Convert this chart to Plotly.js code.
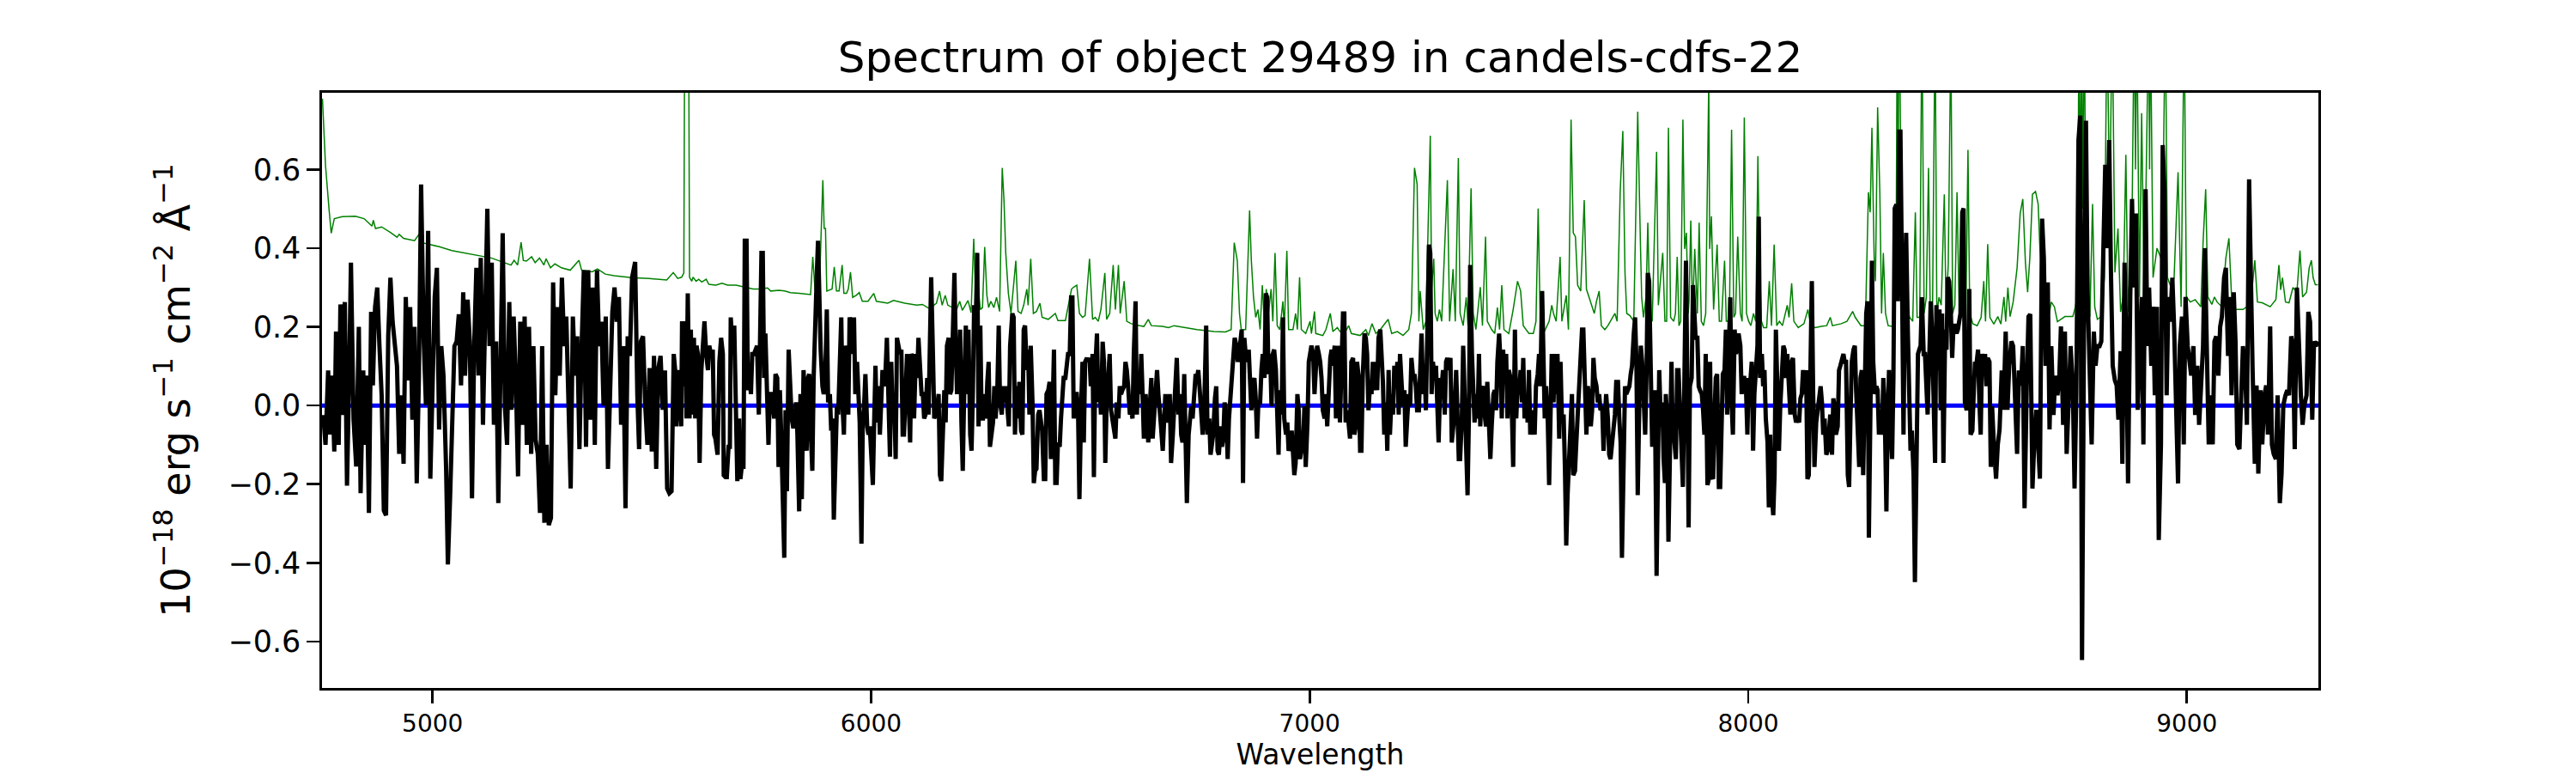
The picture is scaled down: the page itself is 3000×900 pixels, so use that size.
<!DOCTYPE html>
<html>
<head>
<meta charset="utf-8">
<script src="https://cdn.plot.ly/plotly-3.0.1.min.js"></script>
<style>
  html, body { margin: 0; padding: 0; background: #fff; }
  #chart { width: 3000px; height: 900px; }
</style>
</head>
<body>
<div id="chart"></div>
<script>
// Values read off the reference plot: observed flux (black), its error /
// sky spectrum (green) and the zero model (blue). Units: 1e-18 erg/s/cm2/A.

const fluxWave = [
  4751,4756,4762,4766,4771,4776,4780,4786,4790,4795,
  4800,4805,4810,4814,4820,4826,4832,4836,4842,4847,
  4850,4855,4860,4864,4869,4874,4879,4884,4889,4894,
  4899,4904,4909,4914,4919,4924,4929,4934,4939,4944,
  4949,4954,4959,4964,4969,4974,4980,4985,4990,4995,
  5000,5005,5010,5015,5020,5025,5031,5035,5040,5045,
  5050,5055,5060,5065,5070,5074,5080,5085,5090,5095,
  5100,5105,5110,5115,5120,5125,5130,5135,5140,5145,
  5150,5155,5160,5165,5170,5175,5180,5185,5190,5195,
  5200,5205,5210,5215,5220,5225,5230,5235,5240,5245,
  5250,5255,5260,5265,5270,5275,5280,5285,5290,5295,
  5300,5305,5310,5315,5320,5325,5330,5335,5340,5345,
  5350,5355,5360,5365,5370,5375,5380,5385,5390,5395,
  5400,5405,5410,5415,5420,5425,5430,5435,5440,5445,
  5450,5455,5462,5467,5471,5475,5480,5485,5490,5495,
  5500,5505,5510,5515,5520,5525,5530,5535,5540,
  5545,5550,5554,5556,5560,5563,5567,5569,5573,5576,
  5579,5582,5586,5589,5592,5596,5599,5602,5605,5609,
  5613,5616,5620,5624,5628,5631,5635,5639,5642,5645,
  5648,5650,5654,5658,5662,5664,5668,5671,5675,5678,
  5680,5684,5688,5692,5695,5699,5702,5705,5709,5712,
  5716,5719,5722,5726,5729,5733,5737,5740,5744,5747,
  5750,5753,5756,5759,5763,5766,5769,5773,5776,5779,
  5782,5786,5789,5792,5795,5799,5802,5805,5808,5812,
  5815,5819,5822,5825,5829,5832,5836,5839,5842,5846,
  5849,5853,5856,5859,5862,5866,5869,5872,5876,5879,
  5882,5885,5889,5892,5895,5899,5902,5906,5909,5912,
  5915,5919,5922,5925,5929,5932,5935,5938,5942,5945,
  5948,5951,5955,5958,5961,5964,5968,5971,5974,5978,
  5981,5984,5987,5991,5994,5997,6000,6004,6007,6010,
  6013,6017,6020,6023,6026,6030,6033,6036,6040,6043,
  6046,6049,6053,6056,6059,6062,6066,6069,6072,6075,
  6079,6082,6085,6089,6092,6095,6098,6102,6105,6108,
  6111,6115,6118,6121,6124,6128,6131,6134,6137,6141,
  6144,6147,6151,6154,6157,6160,6164,6167,6170,6173,
  6177,6180,6183,6186,6190,6193,6196,6200,6203,6206,
  6209,6213,6216,6219,6222,6226,6229,6232,6235,6239,
  6242,6245,6249,6252,6255,6258,6262,6265,6268,6271,
  6275,6278,6281,6284,6288,6291,6294,6298,6301,6304,
  6307,6311,6314,6317,6320,
  6322,6325,6328,6332,6335,6338,6342,6345,6348,6351,
  6355,6358,6361,6364,6368,6371,6374,6377,6381,6384,
  6387,6390,6394,6397,6400,6404,6407,6410,6413,6417,
  6420,6423,6426,6430,6433,6436,6439,6443,6446,6449,
  6453,6456,6459,6462,6466,6469,6472,6475,6479,6482,
  6485,6488,6492,6495,6498,6501,6505,6508,6511,6515,
  6518,6521,6524,6528,6531,6534,6537,6541,6544,6547,
  6550,6554,6557,6560,6564,6567,6570,6573,6577,6580,
  6583,6586,6590,6593,6596,6599,6603,6606,6609,6613,
  6616,6619,6622,6626,6629,6632,6635,6639,6642,6645,
  6648,6652,6655,6658,6661,6665,6668,6671,6675,6678,
  6681,6684,6688,6691,6694,6697,6701,6704,6707,6710,
  6714,6717,6720,6724,6727,6730,6733,6737,6740,6743,
  6746,6750,6753,6756,6759,6764,6767,6771,6774,6777,
  6780,6784,6787,6790,6793,6797,6800,6803,6806,6810,
  6813,6816,6820,6823,6826,6829,6833,6836,6839,6842,
  6845,6848,6851,6854,6857,6861,6864,6867,6870,6874,
  6877,6880,6883,6887,6890,6893,6897,6900,6903,6906,
  6910,6913,6916,6919,6923,6926,6929,6932,6936,6939,
  6942,6946,6949,6952,6955,6959,6962,6965,6968,6972,
  6975,6978,6981,6985,6988,6991,6995,6998,7001,7004,
  7008,7011,7014,7017,7021,7024,7027,7030,7034,7037,
  7040,7043,7047,7050,7053,7057,7060,7063,
  7066,7069,7072,7076,7079,7082,7086,7089,7092,7095,
  7099,7102,7105,7108,7112,7115,7118,7121,7125,7128,
  7131,7134,7138,7141,7144,7148,7151,7154,7157,7161,
  7164,7167,7170,7174,7177,7180,7183,7187,7190,7193,
  7197,7200,7203,7206,7210,7213,7216,7219,7223,7226,
  7229,7232,7236,7239,7242,7245,7249,7252,7255,7259,
  7262,7265,7268,7272,7275,7278,7281,7285,7288,7291,
  7294,7298,7301,7304,7308,7311,7314,7317,7321,7324,
  7327,7330,7334,7337,7340,7343,7347,7350,7353,7357,
  7360,7363,7366,7370,7373,7376,7379,7383,7386,7389,
  7392,7396,7399,7402,7405,7409,7412,7415,7419,7422,
  7425,7428,7432,7435,7438,7441,7445,7448,7451,7454,
  7458,7461,7464,7468,7471,7474,7477,7481,7484,7487,
  7490,7494,7497,7500,7503,7507,7510,7513,7516,7520,
  7523,7526,7530,7533,7536,7539,7543,7546,7549,7552,
  7556,7559,7562,7565,7569,7572,7575,7579,7582,7585,
  7588,7592,7595,7598,7601,7605,7608,7611,7614,7618,
  7621,7624,7628,7631,7634,7637,7641,7644,7647,7650,
  7654,7657,7660,7663,7667,7670,7673,7676,7680,7683,
  7686,7690,7693,7696,7699,7703,7706,7709,7712,7716,
  7719,7722,7725,7729,7732,7735,7739,7742,7745,7748,
  7752,7755,7758,7761,7765,7768,7771,7774,7778,7781,
  7784,7787,7791,7794,7797,7801,7804,7807,7810,
  7812,7815,7818,7822,7825,7828,7831,7835,7838,7841,
  7845,7848,7851,7854,7858,7861,7864,7867,7871,7874,
  7877,7880,7884,7887,7890,7894,7897,7900,7903,7907,
  7910,7913,7916,7920,7923,7926,7929,7933,7936,7939,
  7942,7946,7949,7952,7956,7959,7962,7965,7969,7972,
  7975,7978,7982,7985,7988,7991,7995,7998,8001,8004,
  8008,8011,8014,8018,8021,8024,8027,8031,8034,8037,
  8040,8044,8047,8050,8053,8057,8060,8063,8067,8070,
  8073,8076,8080,8083,8086,8089,8093,8096,8099,8102,
  8106,8109,8112,8116,8119,8122,8125,8129,8132,8135,
  8138,8142,8145,8148,8151,8155,8158,8161,8165,8168,
  8171,8174,8178,8181,8184,8187,8191,8194,8197,8200,
  8204,8207,8210,8213,8217,8220,8223,8227,8230,8233,
  8236,8240,8243,8246,8249,8253,8256,8259,8262,8266,
  8269,8272,8275,8279,8282,8285,8289,8292,8295,8298,
  8302,8305,8308,8311,8315,8318,8321,8324,8328,8331,
  8334,8338,8341,8344,8347,8351,8354,8357,8360,8364,
  8367,8370,8373,8377,8380,8383,8387,8390,8393,8396,
  8400,8403,8406,8409,8413,8416,8419,8422,8426,8429,
  8432,8436,8439,8442,8445,8449,8452,8455,8458,8462,
  8465,8468,8471,8475,8478,8481,8484,8488,8491,8494,
  8498,8501,8504,8507,8511,8514,8517,8520,8524,8527,
  8530,8533,8537,8540,8543,8546,8550,8553,8556,
  8560,8565,8569,8573,8578,8582,8587,8591,8595,8600,
  8604,8608,8613,8617,8622,8626,8630,8635,8639,8643,
  8648,8652,8657,8661,8665,8670,8674,8678,8683,8687,
  8691,8696,8700,8705,8709,8713,8718,8722,8726,8731,
  8735,8740,8744,8748,8753,8757,8761,8766,8770,8774,
  8779,8783,8788,8792,8796,8801,8805,8809,8814,8818,
  8823,8827,8831,8836,8840,8844,8849,8853,8858,8862,
  8866,8871,8875,8879,8884,8888,8892,8897,8901,8906,
  8910,8914,8919,8923,8927,8932,8936,8941,8945,8949,
  8954,8958,8962,8967,8971,8976,8980,8984,8989,8993,
  8997,9002,9006,9010,9015,9019,9024,9028,9032,9037,
  9041,9045,9050,9054,9059,9063,9067,9072,9076,9080,
  9085,9089,9094,9098,9102,9107,9111,9115,9120,9124,
  9128,9133,9137,9142,9146,9150,9155,9159,9163,9168,
  9172,9177,9181,9185,9190,9194,9198,9203,9207,9212,
  9216,9220,9225,9229,9233,9238,9242,9246,9251,9255,
  9260,9264,9268,9273,9277,9281,9286,9290,9294,9299
];

const fluxValue = [
  -0.024,-0.10,0.089,-0.074,0.076,-0.117,0.188,-0.10,0.257,-0.024,
  0.263,-0.204,0.076,0.363,-0.036,-0.155,0.20,-0.223,0.089,-0.10,
  0.076,-0.273,0.238,0.051,0.25,0.30,0.151,0.026,-0.267,-0.279,
  0.176,0.325,0.213,0.151,0.10,-0.123,0.026,-0.148,0.276,0.064,
  0.25,-0.036,0.20,-0.198,0.076,0.562,0.163,0.001,0.444,-0.186,
  0.076,0.276,0.35,-0.061,0.151,0.076,-0.161,-0.404,-0.236,-0.011,
  0.151,0.163,0.232,0.051,0.288,0.076,0.269,0.163,-0.236,0.151,
  0.35,0.076,0.375,-0.049,0.213,0.50,0.151,0.363,-0.049,0.163,
  -0.248,0.163,0.438,0.0,-0.10,0.263,-0.011,0.226,0.064,-0.18,
  0.213,-0.049,0.226,-0.10,0.20,-0.123,0.151,-0.086,-0.123,-0.273,
  0.151,-0.298,-0.10,-0.304,-0.286,0.313,0.026,0.25,0.076,0.325,
  0.151,0.226,-0.036,-0.211,0.226,0.076,0.176,-0.111,0.151,0.344,
  -0.105,0.344,-0.036,0.30,-0.10,0.344,0.151,0.213,0.0,0.226,
  -0.161,0.076,0.238,0.30,0.213,0.276,-0.049,0.151,-0.261,0.176,
  0.126,0.325,0.365,0.026,-0.111,0.163,0.176,0.0,-0.10,0.095,
  -0.117,0.126,-0.161,0.095,0.126,-0.011,0.089,-0.211,-0.223,
  -0.218,0.131,0.08,-0.053,0.039,0.09,-0.053,0.214,0.049,0.214,
  -0.033,0.285,-0.033,0.193,-0.023,0.172,-0.033,0.152,0.131,-0.146,
  0.09,0.131,0.214,0.131,0.09,0.152,0.131,0.142,-0.074,-0.084,
  -0.125,-0.125,0.111,0.172,0.131,-0.177,-0.182,-0.182,-0.105,-0.105,
  0.224,0.152,0.203,-0.023,-0.192,-0.033,-0.187,-0.156,-0.156,0.419,
  0.419,0.039,0.09,0.029,0.131,0.131,0.142,0.152,-0.023,0.183,
  0.388,0.388,0.07,0.183,0.029,-0.10,0.029,0.029,-0.002,-0.033,
  0.08,0.07,-0.156,0.039,-0.074,-0.279,-0.387,-0.012,-0.218,0.142,
  0.06,-0.033,-0.053,-0.053,0.008,-0.074,-0.269,0.029,-0.238,0.09,
  0.008,-0.115,0.07,0.08,-0.053,-0.166,0.07,0.152,0.326,0.419,
  0.203,0.142,0.049,0.029,0.049,0.244,0.008,0.029,-0.064,-0.033,
  -0.29,-0.074,-0.002,-0.023,0.131,0.224,-0.002,-0.074,0.152,0.131,
  -0.023,0.224,0.203,0.131,0.224,0.029,0.111,0.039,-0.043,-0.351,
  -0.043,-0.002,0.08,-0.053,-0.074,-0.053,-0.125,-0.202,-0.043,0.101,
  -0.043,0.049,-0.074,0.029,0.09,0.049,0.09,0.172,-0.023,-0.13,
  0.111,-0.023,-0.002,-0.136,0.172,0.152,0.131,0.142,-0.074,-0.074,
  0.039,0.131,0.029,-0.094,0.131,0.121,-0.033,0.131,0.07,0.172,
  0.111,0.029,0.029,-0.033,-0.023,0.07,-0.023,0.131,0.326,0.131,
  -0.033,-0.023,-0.002,0.029,-0.177,-0.192,-0.074,0.039,-0.043,0.152,
  0.172,0.029,0.039,0.183,0.337,0.152,0.029,0.07,0.193,-0.043,
  -0.166,0.08,0.203,0.029,0.193,-0.074,-0.115,0.029,0.255,0.224,
  0.388,-0.053,0.203,-0.033,-0.033,0.029,-0.033,0.06,0.111,-0.105,
  -0.074,-0.043,0.049,-0.033,0.049,0.203,0.008,-0.023,0.049,0.008,
  0.049,-0.012,-0.053,0.152,0.193,
  0.234,0.224,-0.074,0.049,-0.033,0.06,-0.064,-0.074,0.193,0.203,
  0.09,0.142,-0.023,0.152,0.008,-0.197,-0.166,-0.161,-0.023,-0.012,
  -0.033,-0.064,-0.187,-0.187,0.029,0.039,0.06,-0.136,-0.053,0.142,
  -0.197,-0.197,-0.094,-0.105,-0.033,0.029,0.07,0.07,0.111,0.131,
  0.131,0.275,0.275,-0.033,0.029,0.029,-0.023,-0.238,-0.002,0.111,
  -0.094,0.111,0.121,0.111,0.121,0.049,0.131,-0.182,0.09,0.183,
  0.008,0.07,-0.023,0.162,0.111,-0.146,0.008,0.07,0.131,-0.012,
  -0.033,-0.053,-0.084,0.008,-0.033,0.049,0.029,0.039,0.049,0.111,
  0.09,0.049,-0.023,-0.012,-0.033,0.131,0.265,-0.023,0.07,0.029,
  0.131,0.029,-0.084,0.029,-0.074,-0.094,-0.012,0.07,-0.084,-0.033,
  0.018,0.09,0.029,-0.002,-0.053,-0.115,-0.033,0.029,-0.043,-0.023,
  0.029,-0.146,-0.074,-0.002,0.06,0.121,-0.023,0.029,-0.074,-0.094,
  0.08,-0.115,-0.248,-0.074,-0.033,-0.002,-0.033,0.029,0.08,0.07,
  0.09,0.029,-0.053,-0.074,-0.033,0.203,-0.074,-0.033,-0.125,-0.105,
  -0.074,0.018,0.049,-0.115,-0.125,-0.053,-0.105,-0.084,0.008,-0.033,
  -0.136,-0.033,0.029,0.111,0.142,0.172,0.152,0.111,0.131,0.172,
  0.193,-0.197,0.172,0.131,0.111,0.142,0.029,-0.012,0.049,0.07,
  0.018,-0.084,0.008,0.008,0.09,0.131,0.07,0.285,0.275,0.08,
  0.131,-0.002,0.131,0.142,0.09,-0.023,-0.125,0.039,-0.023,0.224,
  -0.033,-0.074,-0.043,-0.115,-0.105,-0.064,-0.146,-0.177,-0.146,0.029,
  -0.012,-0.136,-0.115,-0.105,-0.002,-0.156,-0.043,0.111,0.131,0.152,
  0.131,0.029,0.09,0.152,0.131,0.111,0.07,-0.012,-0.033,0.029,
  -0.053,0.029,0.121,0.142,0.101,0.152,-0.033,0.049,
  0.152,-0.043,0.06,0.234,0.234,-0.043,-0.012,-0.053,-0.084,0.111,
  0.121,-0.074,-0.053,0.111,0.07,-0.115,-0.115,0.07,0.183,0.172,
  0.131,-0.012,0.06,0.029,0.111,0.039,0.111,0.039,0.172,0.193,
  0.131,0.06,-0.074,0.008,-0.115,0.09,-0.074,0.029,-0.023,0.101,
  0.06,0.111,-0.023,0.131,0.049,-0.002,0.039,-0.105,-0.023,0.029,
  -0.002,0.121,0.07,0.08,0.049,-0.012,-0.012,0.131,0.183,0.029,
  0.101,-0.012,0.131,0.409,0.388,0.029,0.111,0.07,0.101,0.029,
  -0.094,0.07,0.049,0.09,-0.023,0.111,0.121,0.09,0.121,-0.094,
  -0.053,-0.023,0.09,-0.074,-0.136,-0.136,-0.033,0.152,0.049,-0.136,
  -0.228,-0.033,0.357,0.131,0.029,-0.043,0.029,-0.033,0.131,-0.053,
  0.039,0.049,-0.023,-0.053,0.06,-0.033,-0.136,-0.053,0.029,0.039,
  -0.012,0.111,0.183,0.111,-0.033,0.142,0.07,0.131,-0.033,0.09,
  0.07,-0.012,-0.156,0.193,-0.033,0.049,0.029,0.09,0.008,0.121,
  -0.033,0.029,-0.043,0.09,-0.074,-0.012,-0.053,-0.074,0.049,0.08,
  0.131,0.049,0.291,0.07,-0.033,0.049,-0.043,-0.202,-0.033,0.131,
  0.008,0.131,0.029,0.131,-0.084,0.111,-0.033,-0.023,-0.156,-0.356,
  -0.228,-0.115,-0.033,0.029,-0.177,-0.166,-0.094,-0.033,0.029,0.131,
  0.193,0.193,-0.023,-0.074,0.049,0.029,-0.053,-0.012,0.121,0.07,
  0.049,0.008,0.029,-0.012,-0.002,-0.115,-0.033,0.029,-0.033,-0.125,
  -0.136,-0.094,-0.074,-0.023,0.06,0.06,-0.033,-0.094,-0.387,-0.074,
  0.049,0.029,0.039,0.049,0.08,0.101,0.183,0.224,0.111,-0.228,
  0.029,0.152,0.111,0.049,-0.074,0.08,0.337,0.316,0.049,-0.105,
  -0.033,0.039,-0.433,-0.115,0.09,-0.053,0.008,-0.136,-0.197,
  0.029,-0.033,-0.346,-0.074,0.111,-0.084,-0.084,-0.136,0.09,0.09,
  -0.033,-0.115,-0.207,0.029,0.368,0.07,-0.31,0.049,0.07,0.306,
  0.193,0.172,0.172,0.049,0.039,0.029,-0.012,-0.074,0.131,-0.202,
  -0.187,0.111,-0.177,-0.187,-0.023,0.07,0.08,-0.207,-0.207,0.008,
  0.08,0.09,0.193,-0.023,0.193,0.275,0.008,-0.074,0.193,0.131,
  0.152,0.183,0.152,0.029,0.07,0.07,0.039,-0.074,0.07,0.049,
  0.111,-0.115,0.029,0.131,0.152,0.48,0.07,0.131,0.049,0.09,
  -0.033,-0.094,-0.259,-0.074,-0.218,-0.279,-0.177,0.193,0.008,-0.115,
  -0.002,0.09,0.152,0.142,0.07,0.131,0.06,-0.023,0.111,0.121,
  -0.023,-0.043,-0.033,-0.043,0.018,0.029,0.09,0.029,0.09,-0.187,
  -0.177,0.131,0.316,0.029,-0.156,-0.043,-0.012,0.029,0.049,0.008,
  -0.074,-0.033,-0.125,-0.115,-0.074,-0.023,-0.125,0.018,-0.002,-0.074,
  -0.053,0.09,0.101,0.111,0.131,0.111,0.111,-0.177,-0.207,-0.033,
  0.111,0.142,0.152,0.039,-0.074,-0.156,0.07,0.09,-0.177,0.06,
  0.234,0.265,-0.336,0.029,0.368,0.111,0.029,0.049,0.039,-0.074,
  -0.012,-0.074,0.07,-0.002,-0.269,-0.033,0.09,-0.043,-0.136,0.07,
  0.501,0.511,0.265,0.696,0.696,0.275,-0.074,0.275,0.439,0.183,
  -0.033,-0.115,-0.064,-0.177,-0.449,-0.105,0.131,0.142,0.152,0.275,
  0.131,0.131,0.029,-0.023,0.131,0.265,0.193,0.049,-0.146,0.255,
  0.09,0.244,-0.012,0.234,-0.146,0.193,0.142,0.326,0.316,0.234,
  0.121,0.203,0.203,0.183,0.193,0.214,0.234,0.491,0.501,0.008,
  -0.012,0.049,0.296,-0.074,-0.064,0.029,0.111,0.101,0.142,0.008,
  -0.074,0.131,0.09,0.131,0.049,0.121,0.111,-0.156,-0.002,
  -0.099,-0.186,-0.099,-0.061,0.089,-0.011,0.188,-0.011,0.101,0.163,
  0.151,0.039,-0.123,0.089,0.051,0.151,-0.261,0.051,0.226,0.232,
  -0.211,-0.099,-0.011,-0.099,-0.186,0.475,0.375,0.101,0.313,-0.061,
  0.151,-0.024,0.076,0.026,0.064,0.201,-0.049,0.188,-0.123,0.026,
  0.151,0.051,-0.211,0.026,0.675,0.737,-0.647,0.276,0.724,0.276,
  0.051,-0.099,0.188,0.101,0.151,0.151,0.163,0.338,0.612,0.40,
  0.675,0.338,0.101,0.064,0.051,-0.036,0.138,-0.148,0.363,0.151,
  -0.198,0.276,0.525,0.30,0.488,-0.011,0.151,0.276,-0.099,0.55,
  0.151,0.30,0.101,0.251,0.026,0.251,-0.342,-0.099,0.662,0.55,
  0.026,0.276,0.213,0.325,0.20,0.026,-0.198,0.151,0.226,-0.099,
  0.276,0.151,0.101,0.076,0.151,-0.024,0.101,-0.049,0.039,0.151,
  0.40,0.151,-0.099,0.026,-0.099,0.163,0.176,0.076,0.20,0.226,
  0.325,0.35,0.126,0.276,0.026,0.288,0.163,-0.099,-0.111,0.026,
  0.151,0.089,-0.049,0.575,0.251,0.089,-0.148,0.051,-0.173,0.039,
  -0.099,0.026,0.051,-0.074,0.201,-0.099,-0.123,-0.136,0.026,-0.248,
  -0.173,0.001,0.026,0.039,0.026,0.176,0.151,-0.111,0.30,0.151,
  0.026,-0.049,0.001,0.026,0.238,0.213,-0.036,0.163,0.151,0.163
];

const errWave = [
  4749,4756,4764,4769,4776,4794,4824,4844,4862,4865,
  4870,4884,4904,4919,4924,4934,4959,4971,4979,5014,
  5044,5074,5104,5134,5164,5179,5186,5194,5202,5207,
  5214,5226,5234,5244,5254,5259,5269,5279,5294,5314,
  5334,5340,5364,5376,5394,5414,5454,5494,5534,5549,
  5559,5568,5573,5576,5583,5586,5591,5594,5601,5607,
  5614,5624,5630,5646,5660,5673,5692,5712,5731,5744,
  5764,5771,5790,5803,5816,5836,5862,5867,5872,5882,
  5890,5893,5896,5899,5911,5916,5921,5927,5934,5938,
  5944,5948,5953,5958,5966,5973,5980,5993,6006,6012,
  6038,6051,6077,6104,6117,6133,6149,6156,6162,6169,
  6175,6195,6202,6208,6221,6228,6234,6239,6244,6249,
  6254,6259,6264,6268,6273,6280,6286,6293,6299,6303,
  6307,6313,6319,6330,6335,6342,6348,6355,6358,6364,
  6370,6377,6385,6390,6404,6420,6426,6443,6453,6457,
  6462,6469,6475,6482,6488,6498,6505,6511,6518,6524,
  6533,6537,6544,6552,6557,6564,6568,6577,6583,6593,
  6613,6622,6632,6639,6665,6678,6691,6717,6743,6782,
  6808,6821,6828,6835,6840,6844,6854,6863,6867,6872,
  6877,6882,6887,6892,6897,6901,6906,6912,6916,6921,
  6926,6932,6939,6942,6948,6952,6962,6968,6972,6977,
  6981,6991,7001,7004,7011,7014,7030,7037,7047,7053,
  7063,7069,7079,7089,7095,7115,7128,7134,7142,7151,
  7161,7179,7187,7200,7213,7226,7232,7239,7245,7249,
  7252,7259,7265,7275,7278,7283,7286,7291,7296,7301,
  7314,7319,7327,7332,7339,7343,7350,7357,7361,7368,
  7373,7379,7389,7394,7401,7405,7415,7422,7428,7433,
  7438,7443,7454,7464,7474,7481,7487,7500,7510,7516,
  7521,7526,7533,7546,7552,7556,7562,7571,7575,7585,
  7590,7596,7601,7606,7611,7618,7626,7631,7637,7644,
  7649,7654,7660,7665,7673,7680,7690,7696,7701,7708,
  7714,7719,7723,7730,7739,7748,7754,7757,7761,7767,
  7771,7776,7781,7791,7795,7805,7810,7814,7818,7823,
  7830,7834,7838,7842,7846,7851,7855,7859,7863,7865,
  7869,7873,7878,7884,7888,7893,7898,7903,7910,7912,
  7916,7921,7929,7934,7939,7946,7950,7957,7962,7967,
  7971,7976,7982,7986,7991,7996,8001,8006,8012,8017,
  8022,8025,8030,8035,8042,8048,8053,8059,8065,8071,
  8078,8084,8089,8093,8099,8104,8114,8127,8136,8143,
  8153,8166,8179,8187,8192,8212,8225,8238,8244,8257,
  8267,8274,8278,8282,8287,8290,8295,8300,8304,8308,
  8313,8319,8329,8337,8340,8342,8344,8349,8352,8356,
  8362,8368,8375,8381,8385,8391,8396,8401,8406,8411,
  8415,8420,8426,8430,8435,8440,8447,8451,8456,8462,
  8466,8471,8476,8481,8486,8492,8496,8501,8505,8512,
  8522,8531,8537,8541,8546,8551,8560,8569,8576,8583,
  8587,8592,8597,8604,8613,8620,8626,8632,8637,8642,
  8648,8655,8661,8665,8674,8683,8691,8698,8705,8722,
  8740,8746,8751,8754,8757,8760,8763,8766,8770,8773,
  8779,8785,8790,8796,8805,8812,8818,8824,8830,8836,
  8843,8849,8855,8861,8866,8875,8880,8883,8886,8892,
  8897,8903,8908,8913,8915,8917,8923,8932,8941,8947,
  8951,8956,8964,8971,8980,8987,8994,8999,9008,9019,
  9032,9037,9043,9048,9057,9063,9069,9080,9089,9096,
  9102,9111,9128,9137,9146,9155,9161,9172,9190,9203,
  9210,9214,9218,9225,9233,9242,9251,9258,9264,9273,
  9279,9284,9288,9293,9299
];

const errValue = [
  0.78,0.61,0.50,0.438,0.475,0.48,0.481,0.475,0.456,0.471,
  0.45,0.454,0.44,0.428,0.435,0.425,0.419,0.438,0.413,0.404,
  0.394,0.388,0.382,0.375,0.363,0.357,0.369,0.357,0.415,0.369,
  0.367,0.378,0.363,0.375,0.357,0.373,0.35,0.36,0.35,0.344,
  0.369,0.344,0.34,0.347,0.334,0.33,0.325,0.323,0.319,0.338,
  0.323,0.326,0.337,1.3,1.3,0.326,0.316,0.326,0.316,0.321,
  0.314,0.321,0.308,0.306,0.311,0.306,0.306,0.301,0.296,0.296,
  0.299,0.291,0.293,0.291,0.287,0.285,0.282,0.378,0.296,0.296,
  0.573,0.45,0.45,0.291,0.296,0.352,0.291,0.291,0.357,0.285,
  0.285,0.296,0.339,0.275,0.28,0.287,0.265,0.265,0.285,0.265,
  0.26,0.267,0.26,0.255,0.257,0.246,0.26,0.291,0.255,0.28,
  0.255,0.244,0.265,0.242,0.267,0.236,0.424,0.255,0.306,0.244,
  0.249,0.403,0.28,0.249,0.265,0.249,0.275,0.239,0.604,0.522,
  0.388,0.285,0.234,0.368,0.239,0.234,0.255,0.296,0.255,0.373,
  0.234,0.239,0.26,0.224,0.219,0.234,0.216,0.216,0.275,0.296,
  0.301,0.306,0.234,0.224,0.229,0.373,0.219,0.224,0.214,0.244,
  0.337,0.219,0.234,0.357,0.244,0.357,0.234,0.316,0.214,0.208,
  0.203,0.201,0.219,0.203,0.201,0.198,0.203,0.198,0.193,0.188,
  0.187,0.193,0.414,0.368,0.234,0.193,0.193,0.496,0.368,0.275,
  0.224,0.244,0.193,0.306,0.203,0.296,0.234,0.296,0.214,0.388,
  0.203,0.193,0.265,0.193,0.393,0.193,0.193,0.234,0.193,0.326,
  0.193,0.183,0.214,0.183,0.239,0.183,0.178,0.193,0.234,0.188,
  0.198,0.188,0.183,0.203,0.183,0.178,0.193,0.178,0.208,0.183,
  0.193,0.219,0.183,0.188,0.178,0.193,0.234,0.604,0.563,0.214,
  0.291,0.193,0.214,0.686,0.296,0.373,0.234,0.214,0.244,0.214,
  0.573,0.214,0.347,0.214,0.629,0.234,0.203,0.275,0.203,0.552,
  0.234,0.193,0.301,0.203,0.429,0.214,0.193,0.183,0.249,0.193,
  0.306,0.193,0.183,0.244,0.316,0.291,0.203,0.183,0.183,0.214,
  0.501,0.193,0.183,0.214,0.255,0.234,0.214,0.378,0.214,0.28,
  0.193,0.727,0.439,0.429,0.306,0.291,0.522,0.296,0.275,0.255,
  0.234,0.265,0.291,0.203,0.193,0.203,0.224,0.234,0.214,0.542,
  0.698,0.337,0.234,0.229,0.214,0.747,0.419,0.275,0.224,0.275,
  0.465,0.224,0.214,0.645,0.255,0.388,0.214,0.214,0.706,0.224,
  0.214,0.234,0.378,0.203,0.214,0.727,0.398,0.439,0.234,0.265,
  0.47,0.234,0.398,0.234,0.465,0.214,0.203,0.234,0.83,0.398,
  0.481,0.244,0.409,0.214,0.214,0.368,0.214,0.214,0.701,0.224,
  0.234,0.429,0.234,0.214,0.732,0.234,0.214,0.203,0.234,0.214,
  0.634,0.398,0.214,0.198,0.198,0.316,0.203,0.409,0.203,0.214,
  0.203,0.234,0.255,0.224,0.311,0.214,0.198,0.208,0.244,0.203,
  0.198,0.201,0.203,0.224,0.203,0.208,0.214,0.239,0.224,0.203,
  0.203,0.542,0.491,0.706,0.378,0.316,0.758,0.542,0.234,0.388,
  0.234,0.203,0.201,0.337,1.1,0.6,1.1,0.45,0.306,0.316,
  0.255,0.224,0.214,0.491,0.224,0.224,1.0,0.234,0.275,0.604,
  0.234,0.214,1.0,0.234,0.275,0.255,0.537,0.244,0.357,0.95,
  0.234,0.255,0.542,0.234,0.234,0.388,0.214,0.65,0.234,0.208,
  0.203,0.224,0.316,0.214,0.41,0.224,0.207,0.226,0.207,0.276,
  0.213,0.30,0.226,0.263,0.35,0.488,0.525,0.363,0.288,0.375,
  0.537,0.544,0.512,0.40,0.276,0.213,0.263,0.251,0.213,0.226,
  0.226,0.251,0.288,1.0,0.5,1.0,0.5,1.0,0.45,0.338,
  0.226,0.512,0.251,0.219,0.226,0.325,1.0,0.5,1.0,0.338,
  0.45,0.238,0.276,0.637,0.238,0.463,1.0,0.6,1.0,0.276,
  0.743,0.263,0.55,1.0,0.6,1.0,0.325,0.40,0.375,0.65,
  1.0,0.325,0.30,0.325,0.593,0.251,1.0,0.276,0.263,0.269,
  0.251,0.413,0.55,0.276,0.257,0.276,0.263,0.251,0.375,0.425,
  0.276,0.244,0.244,0.251,0.263,0.369,0.263,0.261,0.251,0.269,
  0.357,0.294,0.325,0.263,0.261,0.30,0.288,0.394,0.276,0.288,
  0.35,0.369,0.325,0.307,0.307
];

const modelWave = [4748, 9300];
const modelValue = [0, 0];

const xTicks = [5000, 6000, 7000, 8000, 9000];
const yTicks = [-0.6, -0.4, -0.2, 0.0, 0.2, 0.4, 0.6];
const yTickText = ['\u22120.6', '\u22120.4', '\u22120.2', '0.0', '0.2', '0.4', '0.6'];

const FONT = 'DejaVu Sans, Verdana, sans-serif';

// Draw order as in the reference: thin green error, blue zero model,
// then the black flux on top of both.
const traces = [
  {
    x: errWave,
    y: errValue,
    type: 'scatter',
    mode: 'lines',
    line: { color: '#008000', width: 1.5 },
    hoverinfo: 'skip',
  },
  {
    x: modelWave,
    y: modelValue,
    type: 'scatter',
    mode: 'lines',
    line: { color: '#0000ff', width: 5 },
    hoverinfo: 'skip',
  },
  {
    x: fluxWave,
    y: fluxValue,
    type: 'scatter',
    mode: 'lines',
    line: { color: '#000000', width: 5 },
    hoverinfo: 'skip',
  },
];

// matplotlib default subplot box on a 3000x900 canvas
const layout = {
  width: 3000,
  height: 900,
  paper_bgcolor: '#ffffff',
  plot_bgcolor: '#ffffff',
  showlegend: false,
  font: { family: FONT, color: '#000000' },
  margin: { l: 375, r: 300, t: 108, b: 99, pad: 0 },
  title: {
    text: 'Spectrum of object 29489 in candels-cdfs-22',
    font: { family: FONT, size: 50, color: '#000000' },
    x: 0.5,
    xref: 'paper',
    xanchor: 'center',
    y: 1,
    yref: 'paper',
    yanchor: 'bottom',
    pad: { b: 24 },
  },
  xaxis: {
    range: [4748, 9300],
    tickmode: 'array',
    tickvals: xTicks,
    ticktext: xTicks.map(String),
    ticks: 'outside',
    ticklen: 15,
    tickwidth: 2.6,
    tickcolor: '#000000',
    tickfont: { family: FONT, size: 28, color: '#000000' },
    showline: true,
    linecolor: '#000000',
    linewidth: 2.6,
    mirror: true,
    showgrid: false,
    zeroline: false,
    title: {
      text: 'Wavelength',
      font: { family: FONT, size: 33, color: '#000000' },
      standoff: 6,
    },
  },
  yaxis: {
    range: [-0.718, 0.795],
    tickmode: 'array',
    tickvals: yTicks,
    ticktext: yTickText,
    ticks: 'outside',
    ticklen: 15,
    tickwidth: 2.6,
    tickcolor: '#000000',
    tickfont: { family: FONT, size: 35, color: '#000000' },
    showline: true,
    linecolor: '#000000',
    linewidth: 2.6,
    mirror: true,
    showgrid: false,
    zeroline: false,
    title: {
      text: '10<sup>\u221218</sup> erg s<sup>\u22121</sup> cm<sup>\u22122</sup> \u00c5<sup>\u22121</sup>',
      font: { family: FONT, size: 46, color: '#000000' },
      standoff: 30,
    },
  },
};

Plotly.newPlot('chart', traces, layout, {
  displayModeBar: false,
  staticPlot: true,
  responsive: false,
});
</script>
</body>
</html>
